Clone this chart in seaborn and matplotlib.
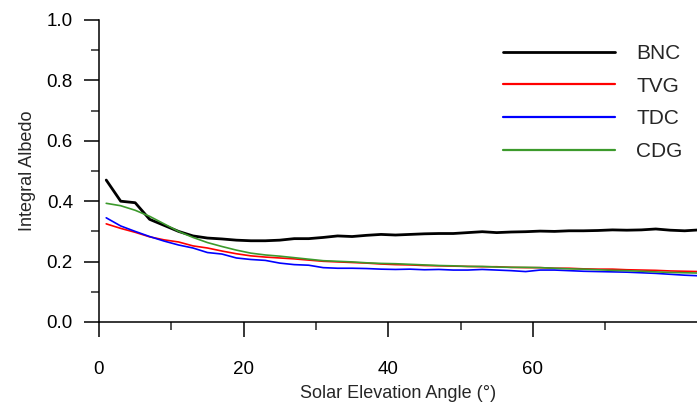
import numpy as np
import pandas as pd
import matplotlib
matplotlib.use("Agg")
import matplotlib.pyplot as plt
import seaborn as sns

angles = [1, 3, 5, 7, 9, 11, 13, 15, 17, 19, 21, 23, 25, 27, 29, 31, 33, 35, 37, 39, 41,
          43, 45, 47, 49, 51, 53, 55, 57, 59, 61, 63, 65, 67, 69, 71, 73, 75, 77, 79, 81, 83]

bnc = [0.47, 0.40, 0.395, 0.34, 0.32, 0.30, 0.285, 0.278, 0.275, 0.271, 0.269, 0.269, 0.271,
       0.276, 0.276, 0.280, 0.285, 0.283, 0.287, 0.290, 0.288, 0.290, 0.292, 0.293, 0.293,
       0.296, 0.299, 0.296, 0.298, 0.299, 0.301, 0.300, 0.302, 0.302, 0.303, 0.305, 0.304,
       0.305, 0.308, 0.304, 0.302, 0.305]

tvg = [0.325, 0.310, 0.297, 0.282, 0.272, 0.265, 0.252, 0.245, 0.235, 0.226, 0.219, 0.215,
       0.212, 0.209, 0.205, 0.201, 0.199, 0.197, 0.195, 0.192, 0.190, 0.189, 0.187, 0.186,
       0.185, 0.184, 0.183, 0.183, 0.181, 0.180, 0.180, 0.178, 0.178, 0.176, 0.175, 0.175,
       0.173, 0.172, 0.171, 0.169, 0.168, 0.167]

tdc = [0.345, 0.318, 0.300, 0.283, 0.268, 0.255, 0.245, 0.230, 0.225, 0.212, 0.207, 0.204,
       0.195, 0.190, 0.188, 0.180, 0.178, 0.178, 0.177, 0.175, 0.174, 0.175, 0.173, 0.174,
       0.172, 0.172, 0.174, 0.172, 0.170, 0.167, 0.172, 0.172, 0.170, 0.168, 0.167, 0.166,
       0.165, 0.163, 0.161, 0.158, 0.155, 0.153]

cdg = [0.393, 0.385, 0.370, 0.350, 0.325, 0.300, 0.280, 0.263, 0.250, 0.238, 0.228, 0.222,
       0.218, 0.213, 0.208, 0.203, 0.201, 0.199, 0.196, 0.194, 0.193, 0.191, 0.189, 0.187,
       0.186, 0.184, 0.184, 0.182, 0.181, 0.181, 0.180, 0.178, 0.176, 0.175, 0.173, 0.171,
       0.170, 0.168, 0.166, 0.164, 0.163, 0.162]

series_names = ["BNC", "TVG", "TDC", "CDG"]
x_ticks = [0, 20, 40, 60]
y_ticks = [0.0, 0.2, 0.4, 0.6, 0.8, 1.0]

sns.set_style("ticks")
plt.rcParams["font.family"] = ["Liberation Sans", "DejaVu Sans"]

fig = plt.figure(figsize=(6.97, 4.07), dpi=100)
ax = fig.add_axes([99 / 697, 85 / 407, 1 - 99 / 697, 302 / 407])

colors = {"BNC": "#000000", "TVG": "#ff0000", "TDC": "#0000ff", "CDG": "#3c9a2c"}
widths = {"BNC": 2.0, "TVG": 1.2, "TDC": 1.2, "CDG": 1.2}
data = {"BNC": bnc, "TVG": tvg, "TDC": tdc, "CDG": cdg}

for name in series_names:
    df = pd.DataFrame({"angle": angles, "albedo": data[name]})
    sns.lineplot(data=df, x="angle", y="albedo", ax=ax, color=colors[name],
                 linewidth=widths[name], label=name)

ax.set_xlim(0, 82.7)
ax.set_ylim(0, 1.0)
ax.set_xticks(x_ticks)
ax.set_xticklabels([str(t) for t in x_ticks])
ax.set_yticks(y_ticks)
ax.set_yticklabels([f"{t:.1f}" for t in y_ticks])
ax.set_xticks([10, 30, 50, 70], minor=True)
ax.set_yticks([0.1, 0.3, 0.5, 0.7, 0.9], minor=True)

for s in ["top", "right"]:
    ax.spines[s].set_visible(False)
for s in ["left", "bottom"]:
    ax.spines[s].set_linewidth(1.1)
    ax.spines[s].set_color("black")

ax.tick_params(axis="both", which="major", direction="out", length=10.8, width=1.1,
               labelsize=13.5, colors="black")
ax.tick_params(axis="both", which="minor", direction="out", length=5.8, width=1.1)
ax.tick_params(axis="x", which="major", pad=17)
ax.tick_params(axis="y", which="major", pad=8)

ax.set_xlabel("Solar Elevation Angle (°)", fontsize=13, labelpad=5)
ax.set_ylabel("Integral Albedo", fontsize=13, labelpad=8)

leg = ax.legend(loc="upper left", bbox_to_anchor=(502.7 / 697, 1 - 44 / 407),
                bbox_transform=fig.transFigure, frameon=False, fontsize=15,
                handlelength=5.4, handletextpad=1.0, labelspacing=0.66,
                borderpad=0, borderaxespad=0)
for line in leg.get_lines():
    line.set_linewidth(2.0 if line.get_label() == "BNC" else 1.6)

ax.grid(False)
fig.savefig("out.png", dpi=100)
